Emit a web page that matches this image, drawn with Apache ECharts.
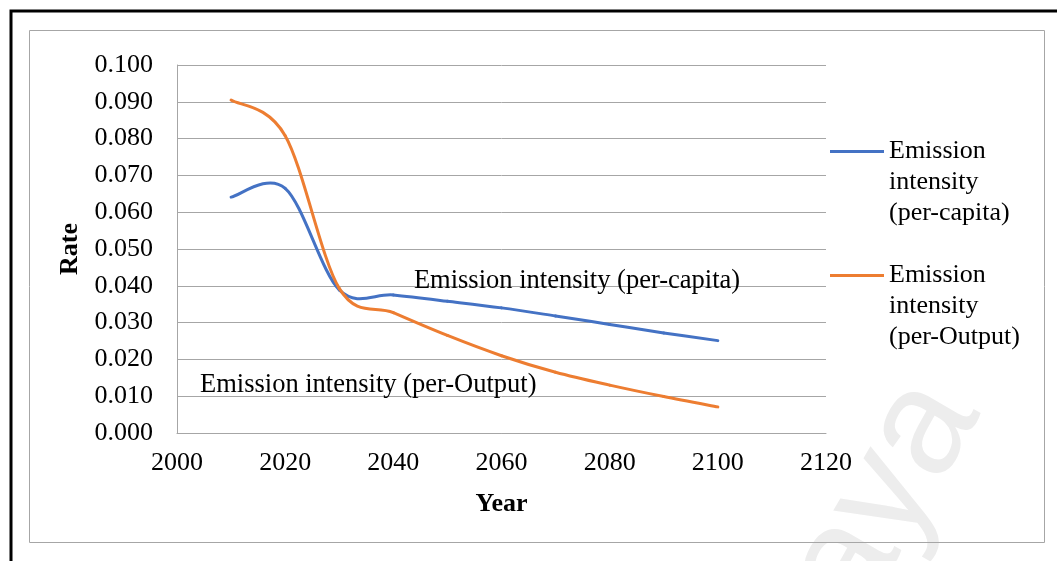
<!DOCTYPE html>
<html>
<head>
<meta charset="utf-8">
<script src="https://cdn.jsdelivr.net/npm/echarts@6/dist/echarts.min.js"></script>
<style>html,body{margin:0;padding:0;background:#fff;}#c{width:1057px;height:561px;}</style>
</head>
<body>
<div id="c"></div>
<script>
const years = [2010, 2020, 2030, 2040, 2050, 2060, 2070, 2080, 2090, 2100];
const perCapita = [0.0641, 0.0665, 0.0389, 0.0375, 0.0358, 0.0340, 0.0318, 0.0295, 0.0272, 0.0251];
const perOutput = [0.0905, 0.0808, 0.0393, 0.0327, 0.0265, 0.0210, 0.0165, 0.0130, 0.0099, 0.0071];
const seriesNames = ['Emission intensity (per-capita)', 'Emission intensity (per-Output)'];
const seriesColors = ['#4472C4', '#ED7D31'];
const xTicks = { min: 2000, max: 2120, interval: 20 };
const yTicks = { min: 0, max: 0.1, interval: 0.01 };

const FONT = '"Liberation Serif", "Times New Roman", serif';
const pairs = (vals) => years.map((y, i) => [y, vals[i]]);

// Smoothed line (Catmull-Rom style Bezier, like the spreadsheet's smoothed line)
function smoothRenderer(vals, color) {
  return function (params, api) {
    const i = params.dataIndex;
    const n = years.length;
    if (i >= n - 1) return null;
    const P = (k) => {
      const kk = Math.max(0, Math.min(n - 1, k));
      return api.coord([years[kk], vals[kk]]);
    };
    const p0 = P(i - 1), p1 = P(i), p2 = P(i + 1), p3 = P(i + 2);
    return {
      type: 'bezierCurve',
      shape: {
        x1: p1[0], y1: p1[1], x2: p2[0], y2: p2[1],
        cpx1: p1[0] + (p2[0] - p0[0]) / 6, cpy1: p1[1] + (p2[1] - p0[1]) / 6,
        cpx2: p2[0] - (p3[0] - p1[0]) / 6, cpy2: p2[1] - (p3[1] - p1[1]) / 6
      },
      style: { fill: null, stroke: color, lineWidth: 3, lineCap: 'round' }
    };
  };
}

const chart = echarts.init(document.getElementById('c'), null, { renderer: 'canvas' });
const option = {
  animation: false,
  backgroundColor: '#ffffff',
  textStyle: { fontFamily: FONT },
  grid: { left: 177, top: 65, right: 231, bottom: 128, containLabel: false },
  xAxis: {
    type: 'value', min: xTicks.min, max: xTicks.max, interval: xTicks.interval,
    name: 'Year', nameLocation: 'middle', nameGap: 58,
    nameTextStyle: { fontFamily: FONT, fontSize: 26, fontWeight: 'bold', color: '#000' },
    axisLine: { show: true, lineStyle: { color: '#A6A6A6', width: 1 } },
    axisTick: { show: false },
    splitLine: { show: false },
    axisLabel: { fontFamily: FONT, fontSize: 26, color: '#000', margin: 17,
      formatter: (v) => String(v) }
  },
  yAxis: {
    type: 'value', min: yTicks.min, max: yTicks.max, interval: yTicks.interval,
    name: 'Rate', nameLocation: 'middle', nameGap: 88,
    nameTextStyle: { fontFamily: FONT, fontSize: 26, fontWeight: 'bold', color: '#000' },
    axisLine: { show: true, lineStyle: { color: '#A6A6A6', width: 1 } },
    axisTick: { show: false },
    splitLine: { show: true, lineStyle: { color: '#A6A6A6', width: 1 } },
    axisLabel: { fontFamily: FONT, fontSize: 26, color: '#000', margin: 24,
      formatter: (v) => v.toFixed(3) }
  },
  legend: {
    orient: 'vertical', left: 830, top: 74, padding: 0, itemGap: -31,
    itemWidth: 54, itemHeight: 3, icon: 'rect',
    data: seriesNames,
    formatter: (name) => name.replace('Emission intensity ', '\n\nEmission\nintensity\n'),
    textStyle: { fontFamily: FONT, fontSize: 26, color: '#000', lineHeight: 31 }
  },
  graphic: [
    { type: 'text', z: -10, silent: true, x: 1010, y: 430, rotation: Math.PI / 3,
      style: { text: 'Malaya', fontFamily: '"Liberation Sans", Arial, sans-serif', fontSize: 150,
        fill: '#ededed', align: 'right', verticalAlign: 'bottom' } },
    { type: 'rect', z: 100, silent: true, shape: { x: 29.5, y: 30.5, width: 1015, height: 512 },
      style: { fill: 'none', stroke: '#A6A6A6', lineWidth: 1 } },
    { type: 'rect', z: 100, silent: true, shape: { x: 11, y: 11, width: 1100, height: 600 },
      style: { fill: 'none', stroke: '#000', lineWidth: 3 } }
  ],
  series: [
    {
      name: seriesNames[0], type: 'custom', coordinateSystem: 'cartesian2d',
      data: pairs(perCapita), encode: { x: 0, y: 1 },
      itemStyle: { color: seriesColors[0] },
      renderItem: smoothRenderer(perCapita, seriesColors[0])
    },
    {
      name: seriesNames[1], type: 'custom', coordinateSystem: 'cartesian2d',
      data: pairs(perOutput), encode: { x: 0, y: 1 },
      itemStyle: { color: seriesColors[1] },
      renderItem: smoothRenderer(perOutput, seriesColors[1])
    },
    {
      name: 'labels', type: 'scatter', symbolSize: 0, silent: true, z: 5,
      itemStyle: { opacity: 1 },
      data: [
        { value: [2043.8, 0.0412], name: seriesNames[0] },
        { value: [2004.25, 0.0131], name: seriesNames[1] }
      ],
      label: { show: true, position: 'right', distance: 0, formatter: (p) => p.name,
        fontFamily: FONT, fontSize: 26.5, color: '#000', opacity: 1 }
    }
  ]
};
chart.setOption(option);
</script>
</body>
</html>
